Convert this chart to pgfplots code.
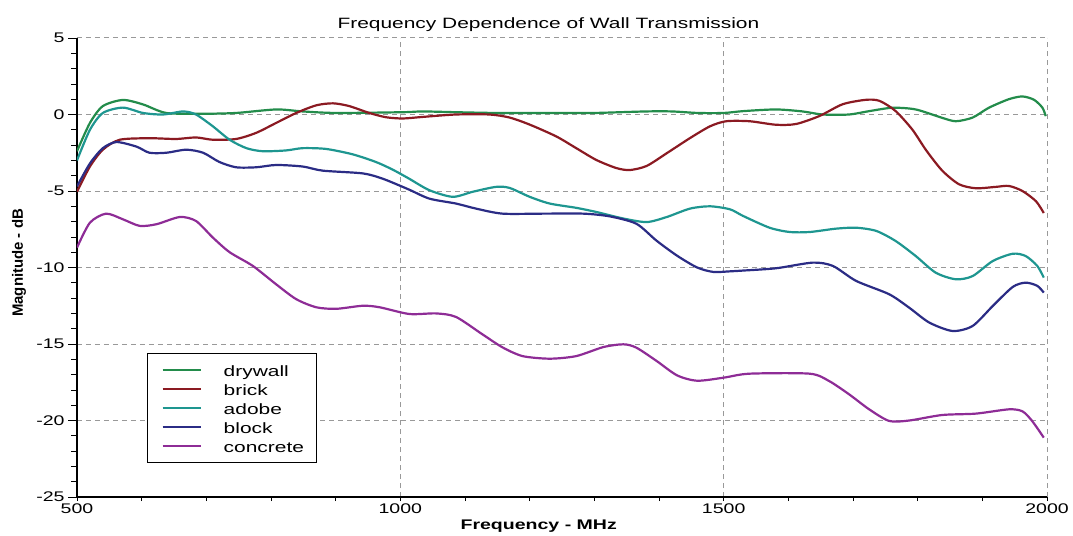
\documentclass[border=0pt]{standalone}
\usepackage{fontspec}
\usepackage{pgfplots}
\pgfplotsset{compat=1.18}
\setmainfont{Liberation Sans}[FakeStretch=1.4]
\newfontfamily\ylabfont{Liberation Sans}

\definecolor{cdry}{HTML}{238C4B}
\definecolor{cbrick}{HTML}{8B1A22}
\definecolor{cadobe}{HTML}{1E9690}
\definecolor{cblock}{HTML}{2B2C85}
\definecolor{cconc}{HTML}{8E2C96}

\begin{document}
\begin{tikzpicture}
\begin{axis}[
    name=ax,
    scale only axis,
    width=970bp, height=459bp,
    xmin=500, xmax=2000,
    ymin=-25, ymax=5,
    xtick={500,1000,1500,2000},
    ytick={-25,-20,-15,-10,-5,0,5},
    minor x tick num=4,
    minor y tick num=4,
    axis x line*=bottom,
    axis y line*=left,
    x axis line style={-, line width=1.5bp},
    y axis line style={-, line width=1.5bp},
    tick align=outside,
    major tick length=9bp,
    minor tick length=6bp,
    xtick style={black, line width=0.8bp, /pgfplots/major tick length=4bp, /pgfplots/minor tick length=4bp},
    ytick style={black, line width=0.8bp},
    grid=major,
    major grid style={gray!80, line width=1bp, dash pattern=on 5bp off 4bp},
    /pgf/number format/assume math mode=true,
    /pgf/number format/1000 sep={},
    tick label style={font=\fontsize{14}{16}\selectfont},
    xticklabel style={yshift=6bp},
    title={Frequency Dependence of Wall Transmission},
    title style={font=\fontsize{15}{17}\selectfont, at={(0.486,1)}, anchor=center, yshift=7bp},
    xlabel={Frequency - MHz},
    xlabel style={font=\fontsize{14}{16}\selectfont\bfseries, at={(0.476,0)}, anchor=center, yshift=-29bp},
    ylabel={Magnitude - dB},
    ylabel style={font=\ylabfont\fontsize{15}{17}\selectfont\bfseries, at={(0,0.51)}, anchor=center, yshift=58bp},
    legend cell align=left,
    legend image code/.code={\path (0bp,0bp); \draw[#1] (6bp,0bp) -- (44bp,0bp);},
    legend style={at={(0.0722,0.3136)}, anchor=north west, draw=black, line width=1bp,
        fill=white, inner xsep=8bp, inner ysep=7bp, column sep=17bp,
        font=\fontsize{15}{17}\selectfont,
        nodes={text height=14bp, text depth=1bp, inner ysep=2bp, inner xsep=5bp}},
    every axis plot/.append style={line width=2.2bp, smooth, tension=0.45},
]
\addplot[cdry] coordinates {
(500,-2.4) (520,-0.55) (540,0.55) (571,0.95) (602,0.66) (638,0.1) (695,0.05) (746,0.1)
(808,0.33) (849,0.2) (901,0.1) (1004,0.15) (1034,0.2) (1086,0.15) (1150,0.1) (1250,0.1)
(1300,0.1) (1380,0.2) (1420,0.2) (1460,0.1) (1500,0.1) (1530,0.22) (1581,0.33) (1622,0.2)
(1653,0) (1694,0) (1725,0.22) (1761,0.44) (1797,0.33) (1838,-0.22) (1859,-0.44) (1885,-0.2)
(1910,0.44) (1941,1.0) (1962,1.18) (1980,0.96) (1993,0.44) (1998,-0.11)
};
\addlegendentry{drywall}
\addplot[cbrick] coordinates {
(500,-5.05) (520,-3.4) (540,-2.3) (566,-1.65) (612,-1.55) (653,-1.6) (684,-1.5) (710,-1.65)
(746,-1.6) (777,-1.2) (808,-0.55) (839,0.1) (870,0.6) (896,0.73) (921,0.55) (952,0.1)
(978,-0.18) (1004,-0.26) (1034,-0.16) (1086,0) (1138,0) (1169,-0.2) (1200,-0.66) (1241,-1.43)
(1272,-2.2) (1303,-2.97) (1334,-3.5) (1355,-3.63) (1381,-3.36) (1412,-2.53) (1448,-1.54)
(1479,-0.77) (1504,-0.44) (1540,-0.44) (1581,-0.67) (1612,-0.62) (1648,-0.1) (1684,0.67)
(1720,0.96) (1741,0.89) (1766,0.22) (1792,-1.0) (1813,-2.33) (1838,-3.67) (1864,-4.56)
(1890,-4.82) (1921,-4.73) (1941,-4.67) (1962,-5.0) (1983,-5.67) (1995,-6.44)
};
\addlegendentry{brick}
\addplot[cadobe] coordinates {
(500,-3.0) (520,-1.0) (540,0.1) (571,0.45) (602,0.1) (633,0) (664,0.2) (684,0) (710,-0.77)
(736,-1.65) (762,-2.2) (787,-2.4) (823,-2.35) (849,-2.2) (885,-2.25) (926,-2.6) (962,-3.1)
(988,-3.6) (1013,-4.18) (1045,-4.95) (1081,-5.38) (1112,-5.05) (1148,-4.73) (1169,-4.8)
(1200,-5.38) (1231,-5.82) (1272,-6.1) (1303,-6.37) (1345,-6.8) (1381,-7.03) (1412,-6.7)
(1448,-6.15) (1479,-6.0) (1510,-6.2) (1530,-6.63) (1571,-7.4) (1602,-7.68) (1633,-7.68)
(1674,-7.46) (1705,-7.4) (1736,-7.61) (1766,-8.27) (1797,-9.25) (1828,-10.34) (1859,-10.77)
(1885,-10.56) (1916,-9.58) (1947,-9.1) (1967,-9.25) (1985,-9.9) (1995,-10.66)
};
\addlegendentry{adobe}
\addplot[cblock] coordinates {
(500,-4.7) (520,-3.2) (540,-2.2) (561,-1.8) (592,-2.1) (612,-2.5) (638,-2.5) (669,-2.3)
(695,-2.5) (720,-3.1) (746,-3.45) (777,-3.45) (808,-3.3) (849,-3.4) (880,-3.67) (942,-3.85)
(973,-4.2) (1013,-4.9) (1045,-5.5) (1086,-5.82) (1117,-6.15) (1158,-6.48) (1220,-6.48)
(1283,-6.48) (1324,-6.66) (1365,-7.14) (1396,-8.24) (1428,-9.23) (1459,-10.0) (1484,-10.29)
(1510,-10.25) (1530,-10.2) (1581,-10.05) (1638,-9.68) (1669,-9.9) (1705,-10.88) (1756,-11.75)
(1787,-12.63) (1818,-13.6) (1854,-14.15) (1885,-13.82) (1916,-12.52) (1947,-11.27)
(1967,-10.99) (1985,-11.2) (1995,-11.64)
};
\addlegendentry{block}
\addplot[cconc] coordinates {
(500,-8.7) (520,-7.07) (545,-6.48) (571,-6.85) (597,-7.28) (623,-7.17) (659,-6.7) (684,-6.96)
(710,-8.04) (736,-9.0) (772,-9.9) (808,-11.1) (839,-12.07) (870,-12.6) (901,-12.7) (942,-12.5)
(968,-12.6) (1014,-13.04) (1055,-13.0) (1086,-13.23) (1127,-14.37) (1158,-15.22) (1189,-15.79)
(1231,-15.96) (1272,-15.79) (1314,-15.2) (1345,-15.02) (1365,-15.24) (1396,-16.1) (1428,-17.05)
(1459,-17.4) (1500,-17.2) (1540,-16.94) (1633,-16.94) (1663,-17.42) (1694,-18.29) (1725,-19.27)
(1756,-20.03) (1787,-20.0) (1838,-19.64) (1890,-19.55) (1941,-19.27) (1962,-19.4) (1977,-20.03)
(1995,-21.12)
};
\addlegendentry{concrete}
\end{axis}
\path ([xshift=-77bp,yshift=-37bp]ax.south west) rectangle ([xshift=26bp,yshift=38bp]ax.north east);
\end{tikzpicture}
\end{document}
